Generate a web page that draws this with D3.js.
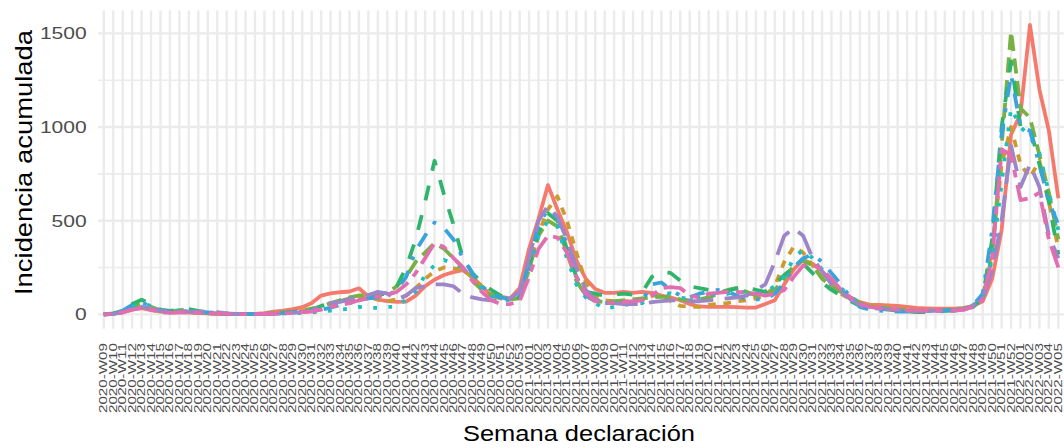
<!DOCTYPE html>
<html><head><meta charset="utf-8">
<script src="https://cdn.jsdelivr.net/npm/d3@7"></script>
<style>body{margin:0;background:#fff;} svg{display:block;}</style>
</head><body>
<svg id="chart" width="1064" height="448"></svg>
<script>
const weeks = [
"2020-W09","2020-W10","2020-W11","2020-W12","2020-W13","2020-W14","2020-W15","2020-W16","2020-W17","2020-W18",
"2020-W19","2020-W20","2020-W21","2020-W22","2020-W23","2020-W24","2020-W25","2020-W26","2020-W27","2020-W28",
"2020-W29","2020-W30","2020-W31","2020-W32","2020-W33","2020-W34","2020-W35","2020-W36","2020-W37","2020-W38",
"2020-W39","2020-W40","2020-W41","2020-W42","2020-W43","2020-W44","2020-W45","2020-W46","2020-W47","2020-W48",
"2020-W49","2020-W50","2020-W51","2020-W52","2020-W53","2021-W01","2021-W02","2021-W03","2021-W04","2021-W05",
"2021-W06","2021-W07","2021-W08","2021-W09","2021-W10","2021-W11","2021-W12","2021-W13","2021-W14","2021-W15",
"2021-W16","2021-W17","2021-W18","2021-W19","2021-W20","2021-W21","2021-W22","2021-W23","2021-W24","2021-W25",
"2021-W26","2021-W27","2021-W28","2021-W29","2021-W30","2021-W31","2021-W32","2021-W33","2021-W34","2021-W35",
"2021-W36","2021-W37","2021-W38","2021-W39","2021-W40","2021-W41","2021-W42","2021-W43","2021-W44","2021-W45",
"2021-W46","2021-W47","2021-W48","2021-W49","2021-W50","2021-W51","2021-W52","2022-W01","2022-W02","2022-W03",
"2022-W04","2022-W05"];

const seriesNames = ["s1","s2","s3","s4","s5","s6","s7","s8"];

const s1 = [0,3,12,25,33,22,14,10,12,9, 7,5,3,2,2,2,3,6,14,20,
 28,38,60,100,112,118,122,139,95,78, 70,67,68,100,150,185,210,225,236,200,
 150,100,95,85,140,350,510,690,560,440, 290,190,135,115,115,120,115,120,115,100,
 90,75,55,42,40,40,40,38,36,36, 55,75,160,240,290,270,230,180,130,90,
 65,52,50,48,45,40,35,32,30,30, 30,35,45,70,190,450,960,1070,1545,1200, 980,620];
const s2 = [0,2,10,30,45,30,15,10,14,12, 8,5,3,2,1,1,1,2,5,8,
 12,18,25,35,50,70,85,90,95,80, 70,80,100,140,190,230,250,245,240,195,
 150,110,90,80,90,250,430,560,630,500, 330,170,100,75,70,70,70,80,100,100,
 70,45,40,40,50,55,60,70,75,85, 100,150,280,360,330,260,200,150,110,80,
 60,50,45,40,30,25,20,20,20,22, 25,30,45,90,350,800,1000,800,730,820, 600,350];
const s3 = [0,3,15,40,60,40,20,15,22,25, 15,8,4,2,1,1,1,2,6,10,
 15,22,30,40,60,75,90,100,105,110, 115,150,200,280,330,380,350,300,250,180,
 130,100,85,80,85,240,420,500,470,330, 180,100,70,65,70,75,80,85,90,95,
 90,80,75,80,90,110,130,140,120,100, 110,130,190,260,290,260,190,150,120,90,
 60,40,35,30,25,20,18,18,20,22, 25,30,45,80,320,900,1510,1100,1050,850, 650,400];
const s4 = [0,5,20,55,78,55,25,18,25,28, 18,10,5,3,2,1,1,2,5,8,
 12,18,25,45,60,70,80,95,100,105, 110,150,250,400,600,820,640,480,300,220,
 170,130,100,85,90,260,440,540,500,350, 200,120,110,100,105,110,105,120,200,230,
 220,180,150,140,130,120,125,140,150,130, 120,160,210,250,270,220,170,130,100,70,
 45,35,30,25,20,15,12,12,15,18, 20,25,40,90,400,1000,1350,1000,1000,800, 600,320];
const s5 = [0,3,15,40,60,45,22,15,20,18, 12,8,5,3,2,2,2,3,3,5,
 5,8,10,15,20,25,30,40,35,35, 40,40,80,120,210,263,290,270,250,210,
 140,100,80,75,90,220,420,500,470,300, 160,90,60,30,40,50,55,60,100,120,
 110,90,80,90,100,110,110,120,120,110, 120,150,200,300,345,300,240,180,140,95,
 60,40,35,30,25,20,18,18,20,22, 25,30,50,90,300,700,1100,1000,950,860, 650,450];
const s6 = [0,5,20,50,62,45,20,14,18,16, 12,10,8,5,3,2,2,3,4,6,
 10,14,18,25,35,50,60,75,85,90, 100,130,200,340,420,490,460,400,300,220,
 150,110,90,80,90,280,480,560,520,370, 200,100,70,60,60,60,65,75,160,170,
 130,100,90,110,120,130,120,100,80,80, 80,110,170,250,300,320,280,220,160,90,
 40,25,20,18,15,15,15,15,18,20, 25,30,50,110,450,960,1280,1000,980,800, 600,480];
const s7 = [0,3,12,30,40,30,18,14,15,14, 14,14,12,5,2,1,1,2,3,5,
 8,12,20,45,60,67,80,90,103,120, 110,80,100,140,150,160,160,150,110,90,
 80,75,75,85,120,300,500,580,520,400, 250,130,80,65,60,55,55,55,65,70,
 75,75,70,70,75,80,85,90,100,130, 160,280,420,460,420,300,230,160,120,80,
 50,35,30,28,25,22,20,20,20,20, 20,25,45,90,230,500,900,680,800,680, 420,300];
const s8 = [0,2,10,25,35,25,12,8,10,10, 8,6,4,2,1,1,1,2,3,5,
 8,12,15,25,40,50,60,75,85,95, 105,120,160,220,300,380,360,300,250,180,
 120,75,55,55,70,200,350,420,410,330, 200,110,70,60,60,65,70,75,100,140,
 145,140,100,90,110,115,120,120,115,110, 100,110,130,200,260,265,240,190,130,90,
 55,40,35,30,25,20,18,18,20,20, 20,25,40,80,300,880,850,610,620,650, 400,250];

const seriesValues = [s1,s2,s3,s4,s5,s6,s7,s8];
const colors = ["#F47A6E","#CC9A2E","#78B043","#2EB56B","#1DBFC1","#3AA3DC","#9C85C8","#E06EB0"];
const dashUnits = [null,[2,2],[4,2],[4,4],[1,3],[1,3,4,3],[7,3],[2,2,6,2]];

const yMajor = [0,500,1000,1500];
const yMinor = [250,750,1250];
const yLabels = ["0","500","1000","1500"];

const svg = d3.select("#chart");
const panel = {left:98.1, right:1064, top:10.5, bottom:328.8};
const x = d3.scalePoint().domain(weeks).range([panel.left, panel.right]).padding(0.6);
const y = d3.scaleLinear().domain([-77.2, 1622]).range([panel.bottom, panel.top]);
const lw = 3.8;

// grid
svg.append("g").selectAll("line").data(yMinor).join("line")
  .attr("x1",panel.left).attr("x2",panel.right)
  .attr("y1",d=>y(d)).attr("y2",d=>y(d))
  .attr("stroke","#EBEBEB").attr("stroke-width",1.6);
svg.append("g").selectAll("line").data(yMajor).join("line")
  .attr("x1",panel.left).attr("x2",panel.right)
  .attr("y1",d=>y(d)).attr("y2",d=>y(d))
  .attr("stroke","#EBEBEB").attr("stroke-width",2.4);
svg.append("g").selectAll("line").data(weeks).join("line")
  .attr("x1",d=>x(d)).attr("x2",d=>x(d))
  .attr("y1",panel.top).attr("y2",panel.bottom)
  .attr("stroke","#EBEBEB").attr("stroke-width",2.4);

// lines
const line = d3.line().x((d,i)=>x(weeks[i])).y(d=>y(d));
seriesValues.forEach((vals,k)=>{
  svg.append("path").datum(vals)
    .attr("d",line)
    .attr("fill","none")
    .attr("stroke",colors[k])
    .attr("stroke-width",lw)
    .attr("stroke-linejoin","round")
    .attr("stroke-linecap","butt")
    .attr("stroke-dasharray", dashUnits[k] ? dashUnits[k].map(u=>u*lw).join(",") : null);
});

// y axis labels
svg.append("g").selectAll("text").data(yMajor).join("text")
  .attr("x",86.7).attr("y",d=>y(d))
  .attr("dy","0.36em")
  .attr("text-anchor","end")
  .attr("font-family","Liberation Sans, Arial, sans-serif")
  .attr("font-size",17).attr("fill","#4D4D4D")
  .attr("textLength",(d,i)=>yLabels[i].length*11.7)
  .attr("lengthAdjust","spacingAndGlyphs")
  .text((d,i)=>yLabels[i]);

// x axis labels
svg.append("g").selectAll("text").data(weeks).join("text")
  .attr("transform",d=>`translate(${x(d)},343) rotate(-90)`)
  .attr("dy","0.35em")
  .attr("text-anchor","end")
  .attr("font-family","Liberation Sans, Arial, sans-serif")
  .attr("font-size",10).attr("fill","#4D4D4D")
  .attr("textLength",70).attr("lengthAdjust","spacingAndGlyphs")
  .text(d=>d);

// titles
svg.append("text").attr("x",579).attr("y",441)
  .attr("text-anchor","middle")
  .attr("font-family","Liberation Sans, Arial, sans-serif")
  .attr("font-size",22).attr("fill","#000")
  .attr("textLength",232).attr("lengthAdjust","spacingAndGlyphs")
  .text("Semana declaración");
svg.append("text").attr("transform","translate(31.7,162.5) rotate(-90)")
  .attr("text-anchor","middle")
  .attr("font-family","Liberation Sans, Arial, sans-serif")
  .attr("font-size",24).attr("fill","#000")
  .attr("textLength",265).attr("lengthAdjust","spacingAndGlyphs")
  .text("Incidencia acumulada");
</script>
</body></html>
